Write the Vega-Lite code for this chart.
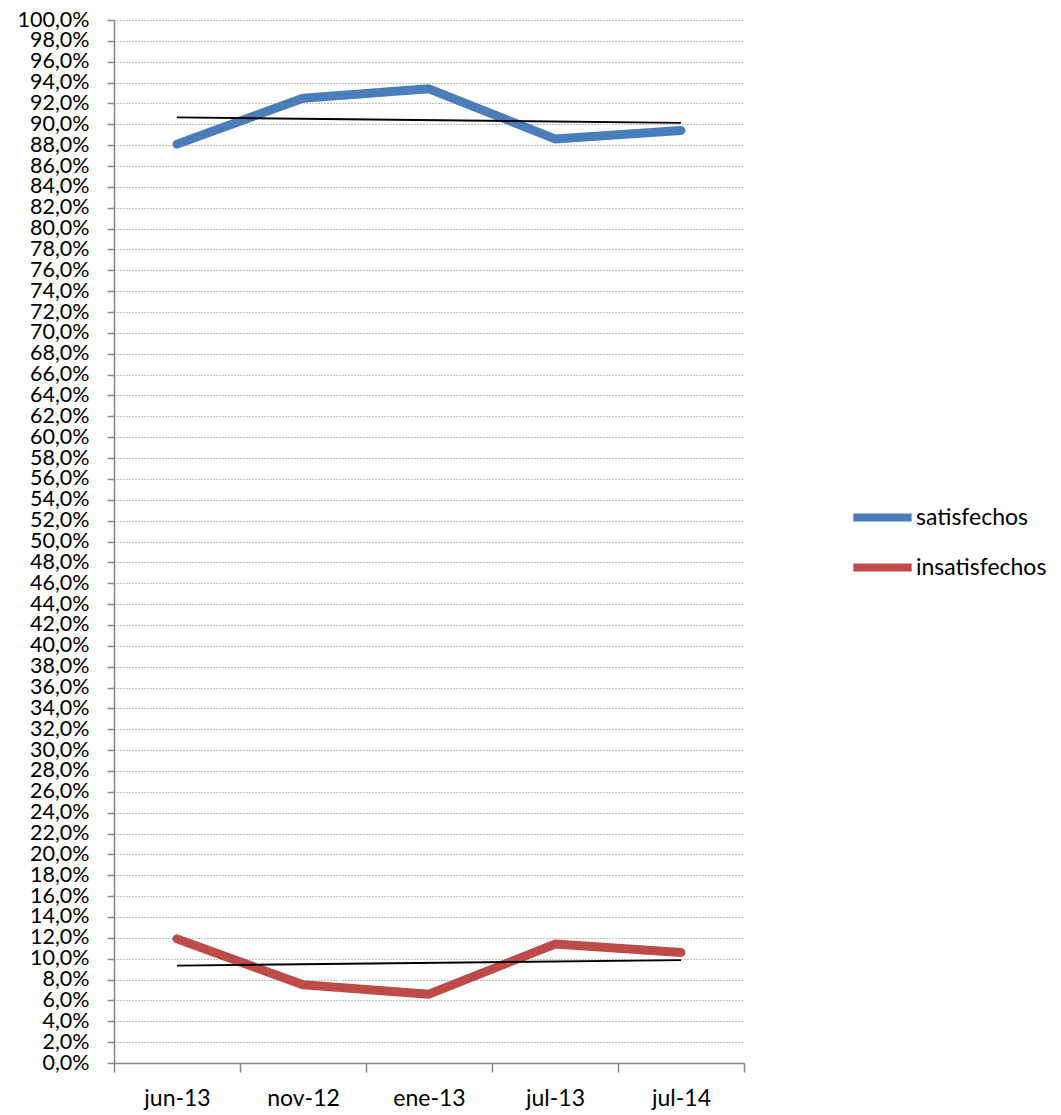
{
  "$schema": "https://vega.github.io/schema/vega-lite/v6.json",
  "width": 630,
  "height": 1043,
  "autosize": {"type": "none"},
  "padding": {"left": 114, "top": 20, "right": 317, "bottom": 52},
  "config": {
    "view": {"stroke": null},
    "font": "Lato",
    "axis": {"labelFont": "Lato", "labelColor": "#000000", "domainColor": "#868686", "tickColor": "#868686", "domainWidth": 1.5, "tickWidth": 1.5},
    "legend": {"labelFont": "Lato"}
  },
  "datasets": {
    "main": [
      {"cat": "jun-13", "serie": "satisfechos", "value": 88.1},
      {"cat": "nov-12", "serie": "satisfechos", "value": 92.5},
      {"cat": "ene-13", "serie": "satisfechos", "value": 93.4},
      {"cat": "jul-13", "serie": "satisfechos", "value": 88.6},
      {"cat": "jul-14", "serie": "satisfechos", "value": 89.4},
      {"cat": "jun-13", "serie": "insatisfechos", "value": 11.9},
      {"cat": "nov-12", "serie": "insatisfechos", "value": 7.5},
      {"cat": "ene-13", "serie": "insatisfechos", "value": 6.6},
      {"cat": "jul-13", "serie": "insatisfechos", "value": 11.4},
      {"cat": "jul-14", "serie": "insatisfechos", "value": 10.6}
    ],
    "trend": [
      {"cat": "jun-13", "serie": "satisfechos", "value": 90.66},
      {"cat": "jul-14", "serie": "satisfechos", "value": 90.14},
      {"cat": "jun-13", "serie": "insatisfechos", "value": 9.34},
      {"cat": "jul-14", "serie": "insatisfechos", "value": 9.86}
    ]
  },
  "encoding": {
    "x": {
      "field": "cat",
      "type": "nominal",
      "sort": ["jun-13", "nov-12", "ene-13", "jul-13", "jul-14"],
      "scale": {"type": "band", "paddingInner": 0, "paddingOuter": 0},
      "axis": {
        "title": null,
        "labelAngle": 0,
        "tickBand": "extent",
        "tickSize": 9,
        "labelFontSize": 23,
        "labelPadding": 15,
        "grid": false
      }
    },
    "y": {
      "field": "value",
      "type": "quantitative",
      "scale": {"domain": [0, 100], "nice": false, "zero": true},
      "axis": {
        "title": null,
        "values": [0,2,4,6,8,10,12,14,16,18,20,22,24,26,28,30,32,34,36,38,40,42,44,46,48,50,52,54,56,58,60,62,64,66,68,70,72,74,76,78,80,82,84,86,88,90,92,94,96,98,100],
        "labelExpr": "replace(format(datum.value, '.1f'), '.', ',') + '%'",
        "labelOverlap": false,
        "labelFontSize": 21.5,
        "labelPadding": 18,
        "tickSize": 7,
        "grid": true,
        "gridDash": [1, 2],
        "gridColor": "#7f7f7f",
        "gridWidth": 1
      }
    }
  },
  "layer": [
    {
      "data": {"name": "main"},
      "mark": {"type": "line", "strokeWidth": 9, "strokeCap": "round", "strokeJoin": "round"},
      "encoding": {
        "color": {
          "field": "serie",
          "type": "nominal",
          "sort": ["satisfechos", "insatisfechos"],
          "scale": {"domain": ["satisfechos", "insatisfechos"], "range": ["#4a7ebb", "#be4b48"]},
          "legend": {
            "title": null,
            "orient": "none",
            "legendX": 735,
            "legendY": 464,
            "symbolType": "stroke",
            "symbolSize": 3400,
            "symbolStrokeWidth": 8,
            "labelFontSize": 23,
            "labelOffset": 0,
            "rowPadding": -10
          }
        }
      }
    },
    {
      "data": {"name": "trend"},
      "mark": {"type": "line", "stroke": "#000000", "strokeWidth": 1.8},
      "encoding": {
        "detail": {"field": "serie", "type": "nominal"}
      }
    }
  ]
}
